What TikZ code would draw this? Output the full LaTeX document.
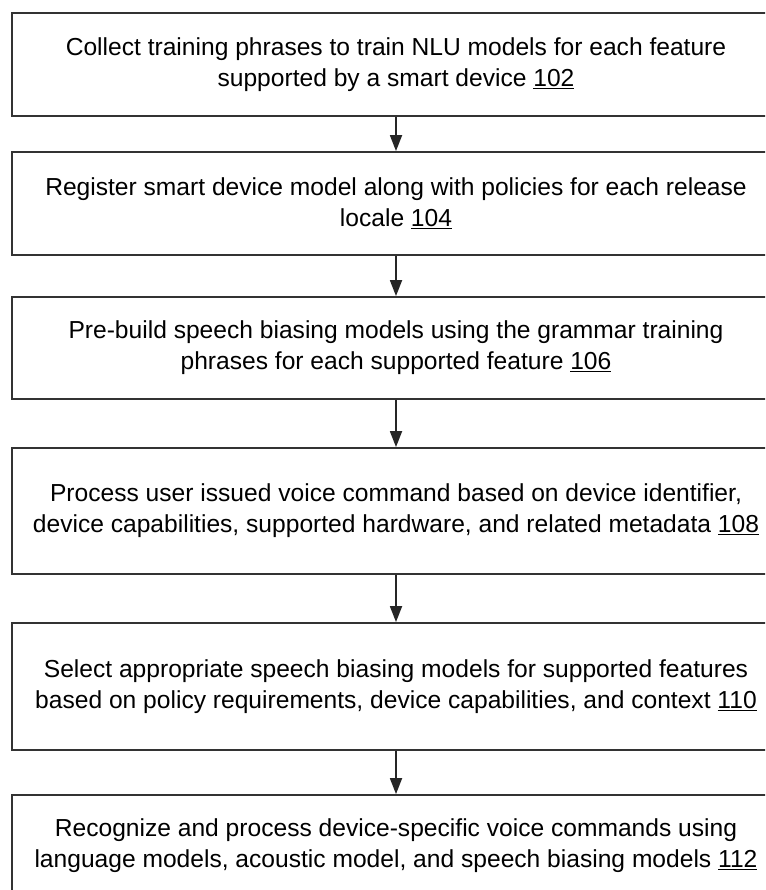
\documentclass[tikz,border=0pt]{standalone}
\usepackage{fontspec}
\setmainfont{Liberation Sans}
\usetikzlibrary{arrows.meta}

\begin{document}
\begin{tikzpicture}[x=1pt,y=1pt,
    stepbox/.style={draw=black!80, line width=1.8pt, minimum width=768pt,
        align=center, inner sep=0pt, font=\fontsize{24.6}{31}\selectfont},
    flow/.style={draw=black!85, line width=1.8pt, -{Triangle[length=16pt,width=12pt]}}]
    \useasboundingbox[clip] (0,0) rectangle (765,-890);

    \node[stepbox, minimum height=103pt] (collect) at (396,-64.5)
        {Collect training phrases to train NLU models for each feature\\
         supported by a smart device \underline{102}};
    \node[stepbox, minimum height=103pt] (register) at (396,-203.5)
        {Register smart device model along with policies for each release\\
         locale \underline{104}};
    \node[stepbox, minimum height=102pt] (prebuild) at (396,-348)
        {Pre-build speech biasing models using the grammar training\\
         phrases for each supported feature \underline{106}};
    \node[stepbox, minimum height=126pt] (process) at (396,-511)
        {Process user issued voice command based on device identifier,\\
         device capabilities, supported hardware, and related metadata \underline{108}};
    \node[stepbox, minimum height=127pt] (select) at (396,-686.5)
        {Select appropriate speech biasing models for supported features\\
         based on policy requirements, device capabilities, and context \underline{110}};
    \node[stepbox, minimum height=102pt] (recognize) at (396,-846)
        {Recognize and process device-specific voice commands using\\
         language models, acoustic model, and speech biasing models \underline{112}};

    \draw[flow] (collect) -- (register);
    \draw[flow] (register) -- (prebuild);
    \draw[flow] (prebuild) -- (process);
    \draw[flow] (process) -- (select);
    \draw[flow] (select) -- (recognize);
\end{tikzpicture}
\end{document}
